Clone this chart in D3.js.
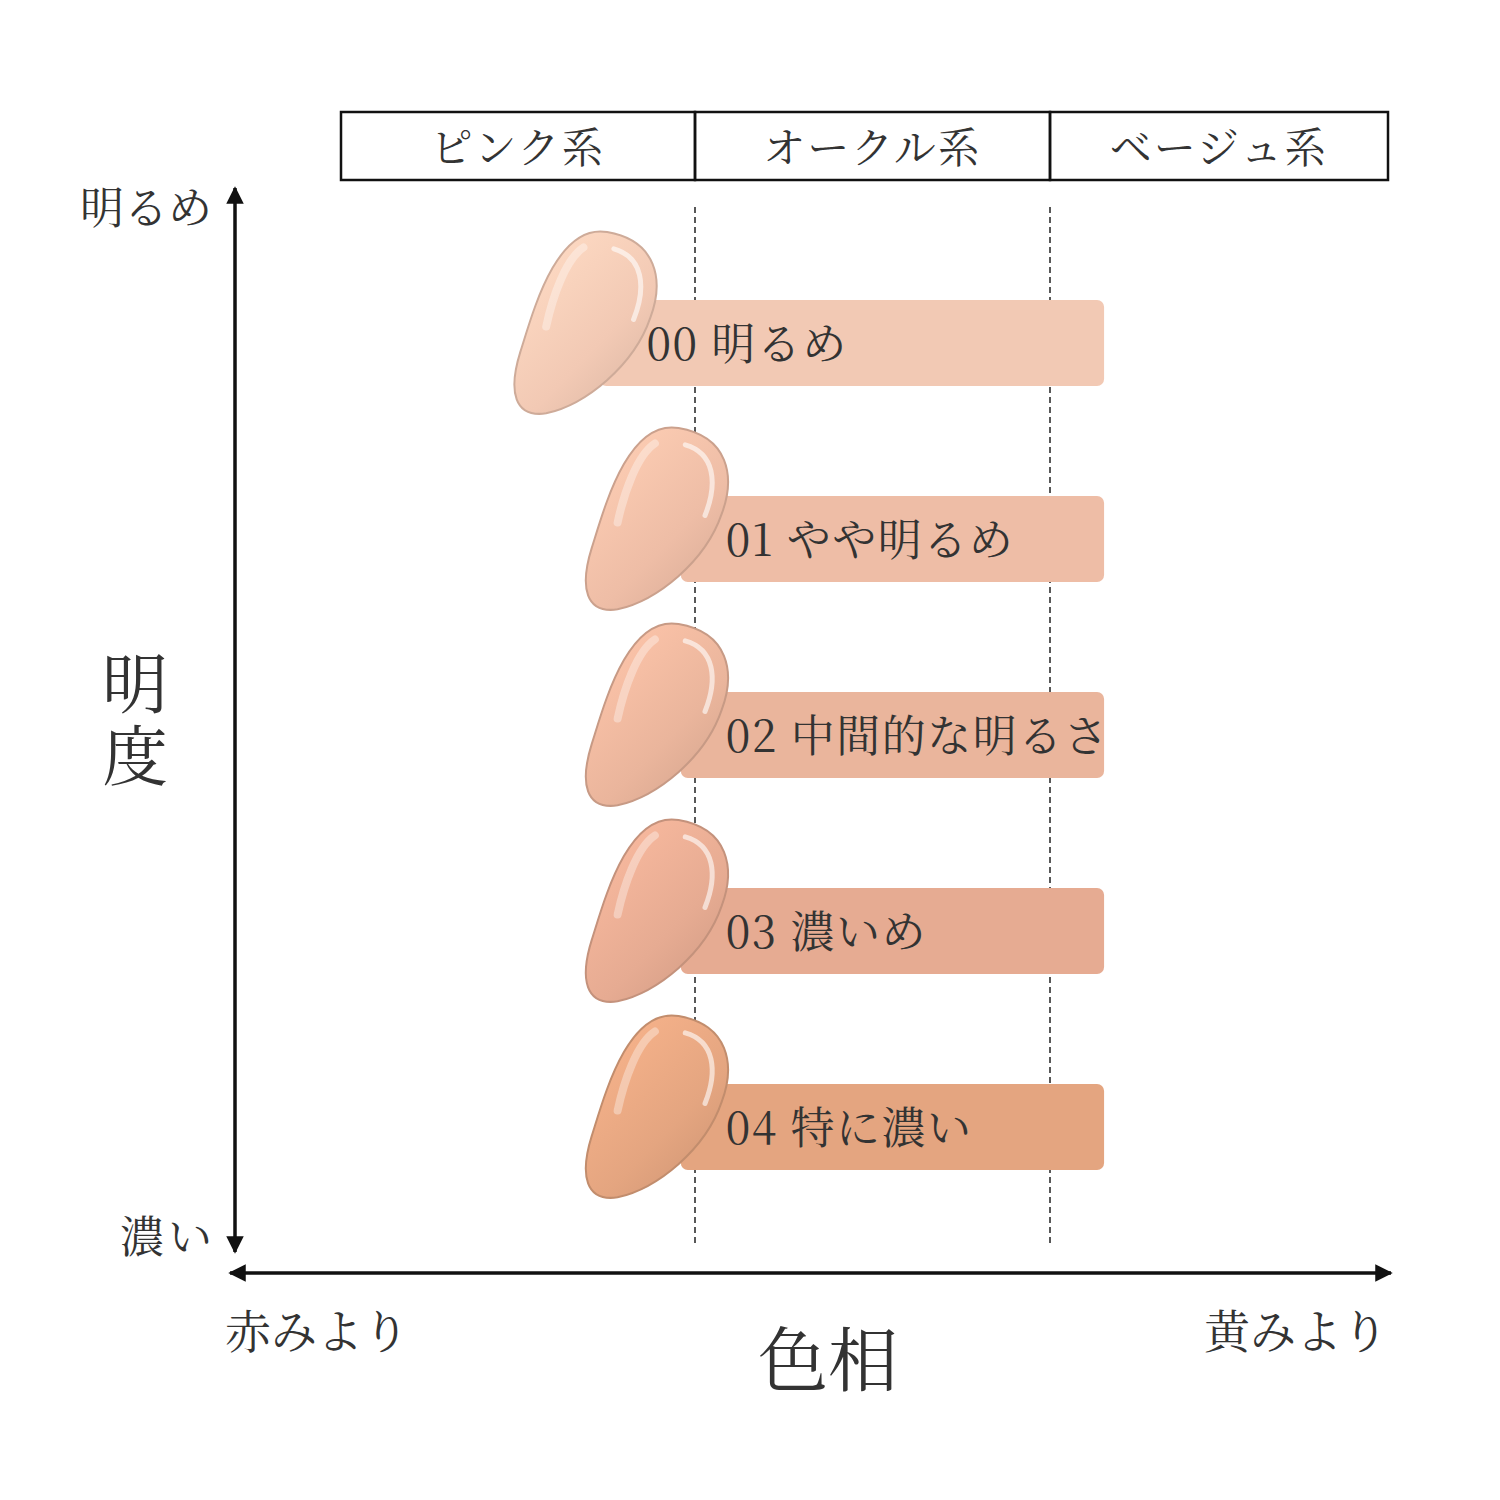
<!DOCTYPE html>
<html><head><meta charset="utf-8">
<script src="https://cdn.jsdelivr.net/npm/d3@7"></script>
<style>body{margin:0;background:#fff}text{font-family:"Noto Serif CJK JP","Noto Sans CJK JP",serif;fill:#333}</style>
</head><body>
<script>
const hueGroups = ["ピンク系", "オークル系", "ベージュ系"];
const shades = ["00 明るめ", "01 やや明るめ", "02 中間的な明るさ", "03 濃いめ", "04 特に濃い"];
const shadeColors = ["#f2c9b4", "#eebda6", "#eab59c", "#e6ab92", "#e4a580"];
const barStart = [0.73, 0.96, 0.96, 0.96, 0.96];
const barEnd = [2.16, 2.16, 2.16, 2.16, 2.16];

const svg = d3.select("body").append("svg").attr("width", 1500).attr("height", 1500);
const x = d3.scaleLinear().domain([0, 1, 2, 3]).range([341, 695, 1050, 1388]);
const y = d3.scalePoint().domain(shades).range([343, 1127]);

const defs = svg.append("defs");
defs.append("marker").attr("id", "arr").attr("viewBox", "0 -5 10 10").attr("refX", 9)
	.attr("markerWidth", 5).attr("markerHeight", 5).attr("orient", "auto-start-reverse")
	.append("path").attr("d", "M0,-5L10,0L0,5Z").attr("fill", "#111");

shadeColors.forEach((c, i) => {
	const g = defs.append("linearGradient").attr("id", "g" + i)
		.attr("x1", "0").attr("y1", "0").attr("x2", "1").attr("y2", "1");
	g.append("stop").attr("offset", "0").attr("stop-color", d3.color(c).brighter(0.25));
	g.append("stop").attr("offset", "0.6").attr("stop-color", c);
	g.append("stop").attr("offset", "1").attr("stop-color", d3.color(c).darker(0.3));
});

// header boxes
svg.selectAll("rect.head").data(hueGroups).enter().append("rect")
	.attr("x", (d, i) => x(i)).attr("y", 112)
	.attr("width", (d, i) => x(i + 1) - x(i)).attr("height", 68)
	.attr("fill", "none").attr("stroke", "#111").attr("stroke-width", 2.5);
svg.selectAll("text.head").data(hueGroups).enter().append("text")
	.attr("x", (d, i) => (x(i) + x(i + 1)) / 2).attr("y", 163)
	.attr("text-anchor", "middle").attr("font-size", 42).attr("letter-spacing", 2).text(d => d);

// dashed dividers
[1, 2].forEach(v => svg.append("line").attr("x1", x(v)).attr("x2", x(v))
	.attr("y1", 207).attr("y2", 1247).attr("stroke", "#222").attr("stroke-width", 1.5)
	.attr("stroke-dasharray", "6,4"));

// axes
svg.append("line").attr("x1", 235).attr("x2", 235).attr("y1", 1252).attr("y2", 188)
	.attr("stroke", "#111").attr("stroke-width", 3.5)
	.attr("marker-start", "url(#arr)").attr("marker-end", "url(#arr)");
svg.append("line").attr("x1", 230).attr("x2", 1391).attr("y1", 1273).attr("y2", 1273)
	.attr("stroke", "#111").attr("stroke-width", 3.5)
	.attr("marker-start", "url(#arr)").attr("marker-end", "url(#arr)");

// bars
svg.selectAll("rect.bar").data(shades).enter().append("rect")
	.attr("x", (d, i) => x(barStart[i])).attr("y", d => y(d) - 43)
	.attr("width", (d, i) => x(barEnd[i]) - x(barStart[i])).attr("height", 86)
	.attr("rx", 7).attr("fill", (d, i) => shadeColors[i]);

// swatches
const blob = "M0,-95 C50,-97 66,-60 60,-20 C54,30 15,78 -22,95 C-52,106 -64,82 -60,40 C-56,0 -52,-93 0,-95 Z";
const sw = svg.selectAll("g.sw").data(shades).enter().append("g")
	.attr("transform", (d, i) => `translate(${x(barStart[i]) - (i === 0 ? 12 : 22)},${y(d) - 18}) rotate(12)`);
sw.append("path").attr("d", blob).attr("fill", (d, i) => `url(#g${i})`)
	.attr("stroke", (d, i) => d3.color(shadeColors[i]).darker(0.45)).attr("stroke-width", 2);
sw.append("path").attr("d", "M10,-80 C40,-78 50,-50 44,-15").attr("fill", "none")
	.attr("stroke", "#fff").attr("stroke-opacity", 0.6).attr("stroke-width", 5).attr("stroke-linecap", "round");
sw.append("path").attr("d", "M-20,-75 C-35,-60 -40,-20 -40,10").attr("fill", "none")
	.attr("stroke", "#fff").attr("stroke-opacity", 0.35).attr("stroke-width", 8).attr("stroke-linecap", "round");

svg.selectAll("text.lab").data(shades).enter().append("text")
	.attr("x", (d, i) => x(barStart[i]) + (i === 0 ? 47 : 45)).attr("y", d => y(d) + 17)
	.attr("font-size", 44).attr("letter-spacing", 1.5).text(d => d);

// axis titles
svg.append("text").attr("x", 80).attr("y", 224).attr("font-size", 44).text("明るめ");
svg.append("text").attr("x", 120).attr("y", 1253).attr("font-size", 44).attr("letter-spacing", 4).text("濃い");
svg.append("text").attr("x", 135).attr("y", 708).attr("text-anchor", "middle").attr("font-size", 66).text("明");
svg.append("text").attr("x", 135).attr("y", 780).attr("text-anchor", "middle").attr("font-size", 66).text("度");
svg.append("text").attr("x", 225).attr("y", 1348).attr("font-size", 46).text("赤みより");
svg.append("text").attr("x", 1388).attr("y", 1348).attr("text-anchor", "end").attr("font-size", 46).text("黄みより");
svg.append("text").attr("x", 828).attr("y", 1386).attr("text-anchor", "middle").attr("font-size", 70).text("色相");
</script>
</body></html>
